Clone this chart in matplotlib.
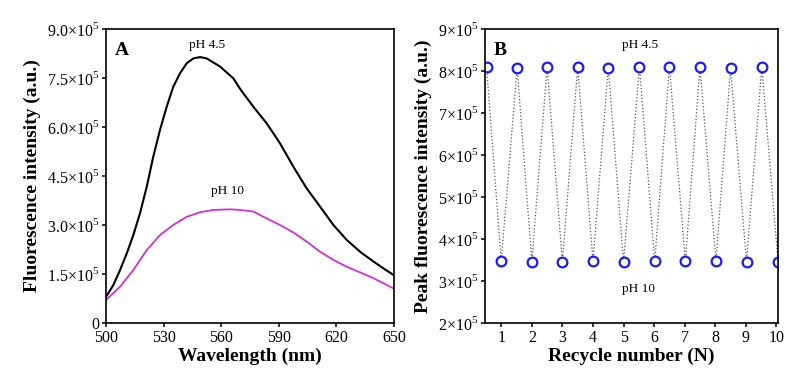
import matplotlib.pyplot as plt
from matplotlib.ticker import FixedLocator

plt.rcParams['font.family'] = ['Liberation Serif', 'DejaVu Serif']
plt.rcParams['mathtext.fontset'] = 'custom'
plt.rcParams['mathtext.rm'] = 'Liberation Serif'

# Panel A: emission spectra
wl_45 = [500, 503.8, 507.3, 510.8, 514.2, 517.7, 521.2, 524.6, 528.1, 531.6, 535, 538.5,
         542, 545.5, 549, 552.4, 559.4, 566.3, 570, 576.7, 583.7, 590.6, 597.6, 604.5,
         611.5, 618.4, 625.4, 632.3, 639.3, 645, 650]
int_45 = [0.80, 1.16, 1.62, 2.13, 2.69, 3.36, 4.17, 5.09, 5.91, 6.62, 7.23, 7.64,
          7.95, 8.10, 8.14, 8.10, 7.85, 7.49, 7.15, 6.62, 6.11, 5.50, 4.78, 4.12,
          3.56, 3.00, 2.54, 2.18, 1.88, 1.65, 1.46]
wl_10 = [500, 507.3, 514.2, 521.2, 528.1, 535, 542, 549, 555.9, 564.6, 570, 576.7,
         583.7, 590.6, 597.6, 604.5, 611.5, 618.4, 625.4, 632.3, 639.3, 645, 650]
int_10 = [0.70, 1.11, 1.62, 2.23, 2.69, 3.00, 3.25, 3.39, 3.46, 3.48, 3.46, 3.41,
          3.20, 3.00, 2.77, 2.49, 2.18, 1.93, 1.72, 1.55, 1.37, 1.20, 1.05]
ticks_a = [0, 1.5, 3.0, 4.5, 6.0, 7.5, 9.0]
tick_labels_a = ['0', '1.5×10$^5$', '3.0×10$^5$', '4.5×10$^5$', '6.0×10$^5$',
                 '7.5×10$^5$', '9.0×10$^5$']

# Panel B: recycling
cycle_x = [0.52, 1.0, 1.52, 2.0, 2.5, 3.0, 3.5, 4.0, 4.5, 5.0, 5.52, 6.02,
           6.5, 7.02, 7.5, 8.02, 8.5, 9.02, 9.52, 10.05]
cycle_y = [8.10, 3.47, 8.08, 3.46, 8.10, 3.46, 8.10, 3.47, 8.08, 3.46, 8.10, 3.47,
           8.10, 3.47, 8.10, 3.47, 8.06, 3.45, 8.10, 3.46]
ticks_b = [2, 3, 4, 5, 6, 7, 8, 9]

fig = plt.figure(figsize=(8.1, 3.83), dpi=100)
ax1 = fig.add_axes([0.1309, 0.1567, 0.3556, 0.7676])
ax2 = fig.add_axes([0.5988, 0.1567, 0.3617, 0.7676])

ax1.plot(wl_45, [v * 1e5 for v in int_45], color='black', lw=1.5)
ax1.plot(wl_10, [v * 1e5 for v in int_10], color='#d030d0', lw=1.3)
ax1.set_xlim(500, 650)
ax1.set_ylim(0, 9e5)
ax1.xaxis.set_major_locator(FixedLocator([500, 530, 560, 590, 620, 650]))
ax1.set_yticks([t * 1e5 for t in ticks_a])
ax1.set_yticklabels(tick_labels_a)
ax1.set_xlabel('Wavelength (nm)', fontsize=14, fontweight='bold', labelpad=1)
ax1.set_ylabel('Fluorescence intensity (a.u.)', fontsize=14, fontweight='bold', labelpad=4)
ax1.text(0.03, 0.955, 'A', transform=ax1.transAxes, fontsize=14, fontweight='bold', va='top')
ax1.text(552.5, 8.5e5, 'pH 4.5', fontsize=9.5, ha='center', va='center')
ax1.text(563.5, 4.05e5, 'pH 10', fontsize=9.5, ha='center', va='center')

ax2.plot(cycle_x, [v * 1e5 for v in cycle_y], color='#555555', lw=0.9, ls=':',
         marker='o', ms=7, mfc='white', mec='#1a1aff', mew=1.6)
ax2.set_xlim(0.47, 10.05)
ax2.set_ylim(2e5, 9e5)
ax2.set_xticks(range(1, 11))
ax2.set_yticks([t * 1e5 for t in ticks_b])
ax2.set_yticklabels(['%d×10$^5$' % t for t in ticks_b])
ax2.set_xlabel('Recycle number (N)', fontsize=14, fontweight='bold', labelpad=1)
ax2.set_ylabel('Peak fluorescence intensity (a.u.)', fontsize=14, fontweight='bold', labelpad=4)
ax2.text(0.03, 0.955, 'B', transform=ax2.transAxes, fontsize=14, fontweight='bold', va='top')
ax2.text(5.55, 8.62e5, 'pH 4.5', fontsize=9.5, ha='center', va='center')
ax2.text(5.5, 2.8e5, 'pH 10', fontsize=9.5, ha='center', va='center')

for ax in (ax1, ax2):
    for s in ax.spines.values():
        s.set_linewidth(1.2)
    ax.tick_params(direction='out', length=3, width=1.1, labelsize=11.5, pad=2)

plt.savefig('out.png', dpi=100)
plt.close()
